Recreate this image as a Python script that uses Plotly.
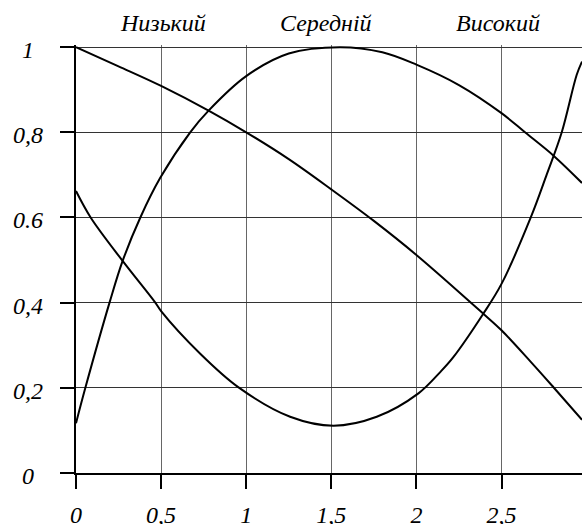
import plotly.graph_objects as go

# readings
low_x = [0, 0.25, 0.5, 0.779, 1, 1.25, 1.5, 1.75, 2, 2.393, 2.5, 2.672, 2.804, 2.973]
low_y = [1.0, 0.955, 0.909, 0.851, 0.80, 0.737, 0.666, 0.592, 0.512, 0.374, 0.335, 0.261, 0.202, 0.125]

mid_x = [0, 0.055, 0.197, 0.274, 0.378, 0.495, 0.671, 0.779, 1, 1.25, 1.55, 1.8, 2, 2.25, 2.5, 2.638, 2.809, 2.973]
mid_y = [0.117, 0.2, 0.4, 0.498, 0.6, 0.693, 0.8, 0.851, 0.932, 0.985, 1.0, 0.988, 0.959, 0.911, 0.845, 0.8, 0.744, 0.681]

high_x = [0, 0.086, 0.274, 0.466, 0.5, 0.73, 0.955, 1.258, 1.513, 1.767, 2.012, 2.14, 2.217,
          2.393, 2.5, 2.672, 2.766, 2.854, 2.942, 2.973]
high_y = [0.662, 0.6, 0.498, 0.4, 0.38, 0.280, 0.201, 0.132, 0.111, 0.132, 0.187, 0.237, 0.272,
          0.374, 0.444, 0.6, 0.701, 0.80, 0.935, 0.966]

x_ticks = [0, 0.5, 1, 1.5, 2, 2.5, 3]
x_labels = ["0", "0,5", "1", "1,5", "2", "2,5", "3"]
y_ticks = [0, 0.2, 0.4, 0.6, 0.8, 1]
y_labels = ["0", "0,2", "0,4", "0.6", "0,8", "1"]

titles = ["Низький", "Середній", "Високий"]
title_x = [0.51, 1.47, 2.48]

font = dict(family="Liberation Serif", size=24, color="black", style="italic")

fig = go.Figure()
for xs, ys, name in [(low_x, low_y, titles[0]), (mid_x, mid_y, titles[1]), (high_x, high_y, titles[2])]:
    fig.add_trace(go.Scatter(x=xs, y=ys, name=name, mode="lines",
                             line=dict(color="black", width=2, shape="spline", smoothing=1)))

# y labels are centred in the reference, so they go in as annotations
for v, lab in zip(y_ticks, y_labels):
    fig.add_annotation(x=-0.095, xref="paper", y=v, yref="y", yshift=-3, text=lab,
                       showarrow=False, xanchor="center", yanchor="middle", font=font)

for v, lab in zip(title_x, titles):
    fig.add_annotation(x=v, xref="x", y=1.051, yref="paper", text=lab,
                       showarrow=False, xanchor="center", yanchor="middle", font=font)

fig.update_layout(
    width=582, height=524,
    margin=dict(l=76, r=0, t=45, b=51),
    paper_bgcolor="white", plot_bgcolor="white",
    showlegend=False,
    font=font,
    xaxis=dict(range=[0, 2.973], tickvals=x_ticks, ticktext=x_labels, automargin=False,
               showgrid=True, gridcolor="#666", gridwidth=1,
               showline=True, linecolor="black", linewidth=2,
               ticks="outside", ticklen=14, tickwidth=2, tickcolor="black",
               ticklabelstandoff=5, zeroline=False, tickfont=font),
    yaxis=dict(range=[0, 1.005], tickvals=y_ticks, showticklabels=False, automargin=False,
               showgrid=True, gridcolor="#333", gridwidth=1,
               showline=True, linecolor="black", linewidth=2,
               ticks="outside", ticklen=14, tickwidth=2, tickcolor="black",
               zeroline=False),
    xaxis2=dict(range=[0, 2.973], overlaying="x", tickvals=x_ticks, showticklabels=False,
                automargin=False, showgrid=False, zeroline=False, ticks="inside", ticklen=14,
                tickwidth=2, tickcolor="black", side="bottom"),
    yaxis2=dict(range=[0, 1.005], overlaying="y", tickvals=y_ticks, showticklabels=False,
                automargin=False, showgrid=False, zeroline=False, ticks="inside", ticklen=12,
                tickwidth=2, tickcolor="black", side="left"),
)

# drop the default body margin so the figure sits flush in the window
fig.write_html("out.html", config={"displayModeBar": False},
               post_script="document.body.style.margin='0';")
